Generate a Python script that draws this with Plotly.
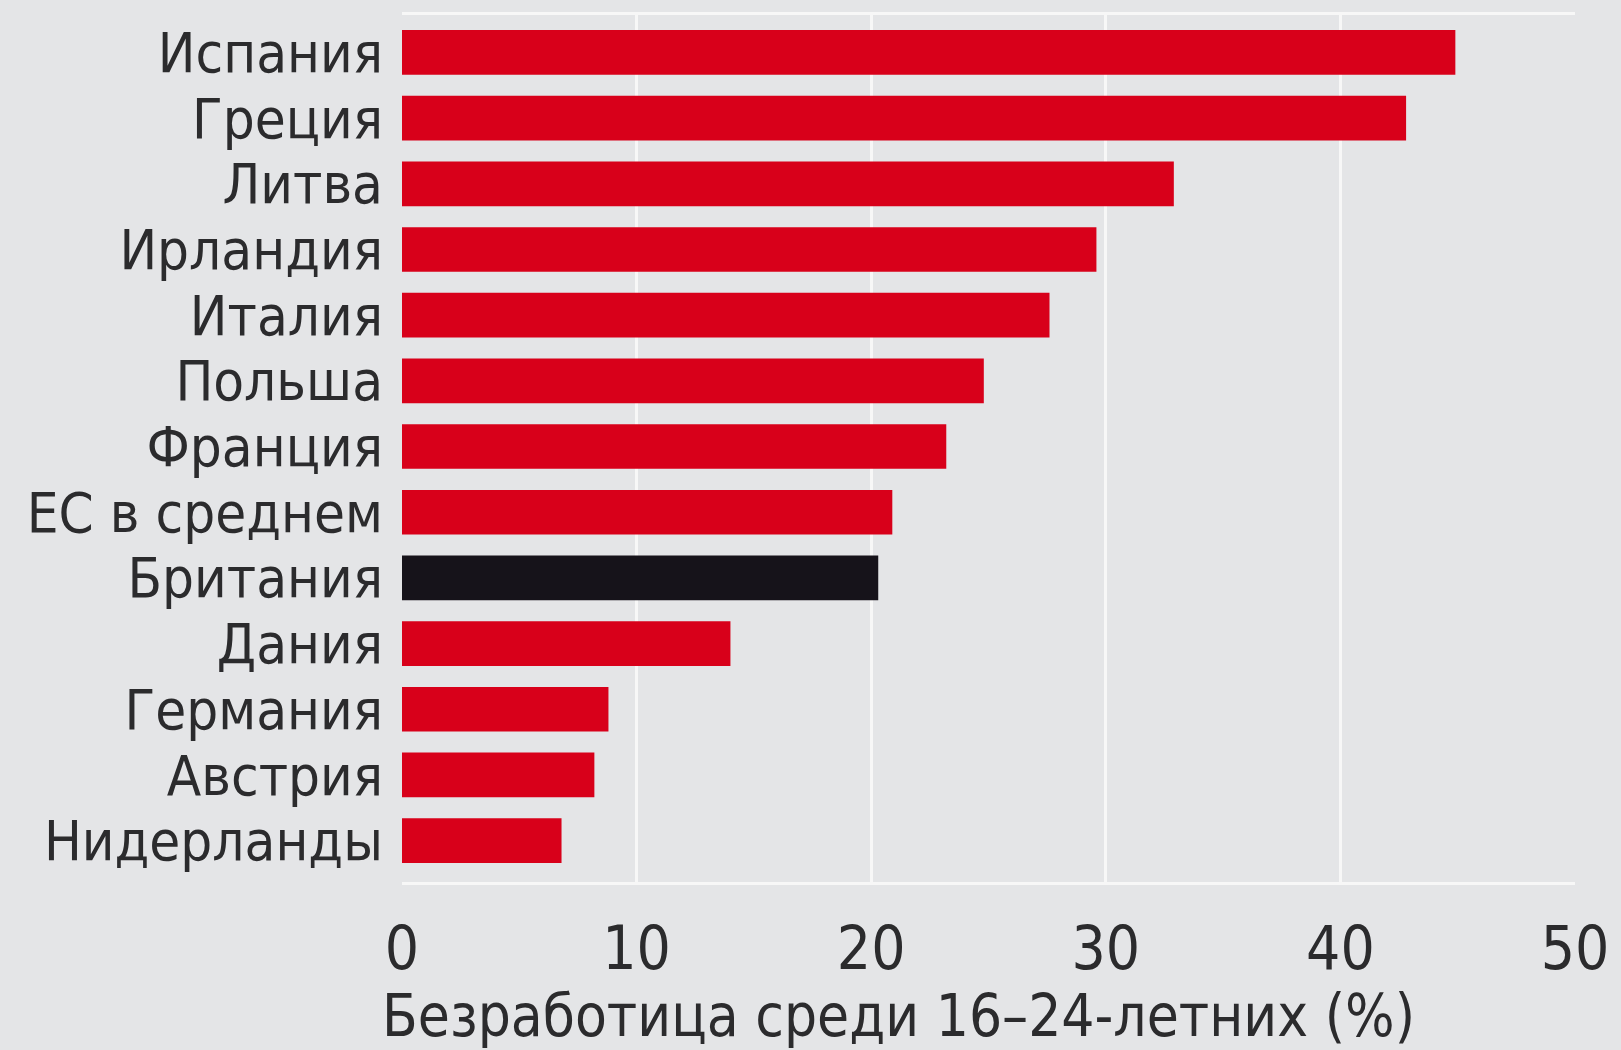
import plotly.graph_objects as go

countries = ["Испания", "Греция", "Литва", "Ирландия", "Италия", "Польша", "Франция",
             "ЕС в среднем", "Британия", "Дания", "Германия", "Австрия", "Нидерланды"]
values = [44.9, 42.8, 32.9, 29.6, 27.6, 24.8, 23.2, 20.9, 20.3, 14.0, 8.8, 8.2, 6.8]
highlight = "Британия"
x_ticks = [0, 10, 20, 30, 40, 50]
x_title = "Безработица среди 16–24-летних (%)"

RED = "#d8001a"
BLACK = "#16131a"
BG = "#e4e5e7"
TXT = "#2b2b2d"
FONT = "Liberation Sans Narrow, DejaVu Sans Condensed, Arial Narrow, sans-serif"

colors = [BLACK if c == highlight else RED for c in countries]

fig = go.Figure(go.Bar(
    x=values, y=countries, orientation="h",
    marker=dict(color=colors, line=dict(width=0)),
))

fig.update_layout(
    width=1621, height=1050,
    paper_bgcolor=BG, plot_bgcolor=BG,
    margin=dict(l=402, r=38, t=12, b=168),
    bargap=0.32,
    showlegend=False,
    font=dict(family=FONT, color=TXT),
)
fig.update_xaxes(
    range=[0, 50], tickvals=x_ticks, ticktext=[str(t) for t in x_ticks],
    showgrid=True, gridcolor="#f7f7f7", gridwidth=3,
    showline=True, linecolor="#f7f7f7", linewidth=3, mirror=True,
    zeroline=False, ticks="", ticklabelstandoff=12,
    tickfont=dict(size=60, family=FONT, color=TXT),
)
fig.update_yaxes(
    range=[len(countries) - 0.37, -0.57],
    tickmode="array", tickvals=countries, ticktext=countries,
    showgrid=False, zeroline=False,
    ticks="", ticklabelstandoff=18,
    tickfont=dict(size=56, family=FONT, color=TXT),
)
fig.add_annotation(
    text=x_title, xref="paper", yref="paper", x=0, y=0,
    xanchor="left", yanchor="middle", xshift=-22, yshift=-134,
    showarrow=False, font=dict(size=58, family=FONT, color=TXT),
)

fig.write_html(
    "out.html",
    config={"displayModeBar": False},
    post_script="document.body.style.margin='0';document.body.style.background='#e4e5e7';",
)
